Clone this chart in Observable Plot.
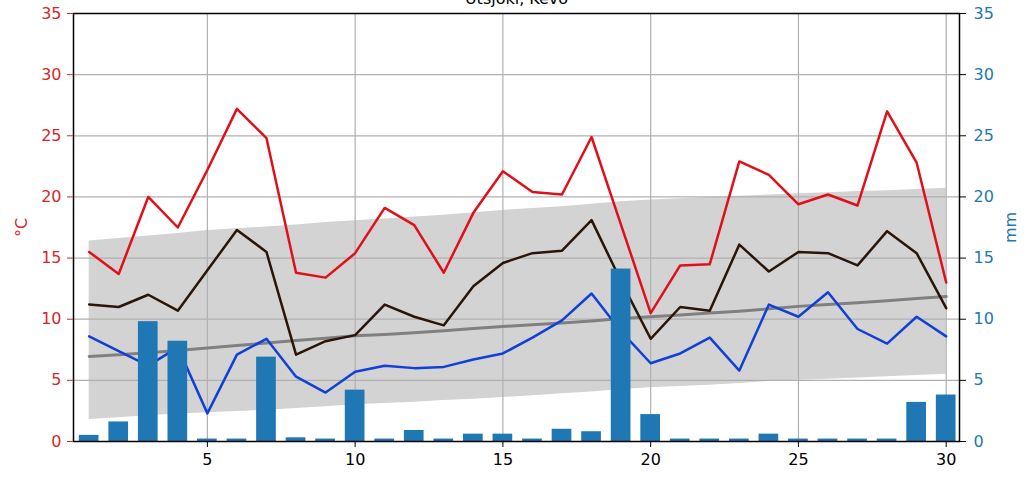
<!DOCTYPE html>
<html>
<head>
<meta charset="utf-8">
<script src="https://cdn.jsdelivr.net/npm/d3@7"></script>
<script src="https://cdn.jsdelivr.net/npm/@observablehq/plot@0.6"></script>
<style>
  html, body { margin: 0; padding: 0; background: #fff; overflow: hidden; }
  #chart svg { display: block; }
</style>
</head>
<body>
<div id="chart"></div>
<script>
const title = "Utsjoki, Kevo";
const days = d3.range(1, 31);
const tMax = [15.5, 13.7, 20.0, 17.5, 22.2, 27.2, 24.8, 13.8, 13.4, 15.4, 19.1, 17.7, 13.8, 18.7, 22.1, 20.4, 20.2, 24.9, 17.7, 10.5, 14.4, 14.5, 22.9, 21.8, 19.4, 20.2, 19.3, 27.0, 22.8, 13.0];
const tMean = [11.2, 11.0, 12.0, 10.7, 14.0, 17.3, 15.5, 7.1, 8.2, 8.7, 11.2, 10.2, 9.5, 12.7, 14.6, 15.4, 15.6, 18.1, 13.1, 8.4, 11.0, 10.7, 16.1, 13.9, 15.5, 15.4, 14.4, 17.2, 15.4, 10.9];
const tMin = [8.6, 7.4, 6.2, 7.7, 2.3, 7.1, 8.4, 5.3, 4.0, 5.7, 6.2, 6.0, 6.1, 6.7, 7.2, 8.5, 9.9, 12.1, 9.0, 6.4, 7.2, 8.5, 5.8, 11.2, 10.2, 12.2, 9.2, 8.0, 10.2, 8.6];
const normMean = [6.95, 7.1, 7.25, 7.45, 7.65, 7.85, 8.05, 8.25, 8.45, 8.65, 8.75, 8.9, 9.05, 9.25, 9.4, 9.55, 9.7, 9.85, 10.05, 10.2, 10.35, 10.5, 10.65, 10.85, 11.05, 11.2, 11.35, 11.5, 11.7, 11.85];
const normHigh = [16.4, 16.6, 16.8, 17.0, 17.25, 17.4, 17.55, 17.7, 17.9, 18.05, 18.2, 18.35, 18.5, 18.7, 18.9, 19.05, 19.2, 19.4, 19.6, 19.75, 19.85, 19.95, 20.05, 20.15, 20.25, 20.35, 20.45, 20.5, 20.6, 20.7];
const normLow = [1.8, 1.95, 2.1, 2.25, 2.35, 2.45, 2.55, 2.7, 2.85, 3.0, 3.1, 3.2, 3.35, 3.45, 3.6, 3.75, 3.9, 4.05, 4.25, 4.4, 4.5, 4.6, 4.75, 4.9, 5.0, 5.1, 5.2, 5.3, 5.4, 5.5];
const precip = [0.5, 1.6, 9.8, 8.2, 0.2, 0.2, 6.9, 0.3, 0.2, 4.2, 0.2, 0.9, 0.2, 0.6, 0.6, 0.2, 1.0, 0.8, 14.1, 2.2, 0.2, 0.2, 0.2, 0.6, 0.2, 0.2, 0.2, 0.2, 3.2, 3.8];
const xTicks = [5, 10, 15, 20, 25, 30];
const yTicks = [0, 5, 10, 15, 20, 25, 30, 35];

const rows = days.map((d, i) => ({
  day: d, tmax: tMax[i], tmean: tMean[i], tmin: tMin[i],
  nmean: normMean[i], nhi: normHigh[i], nlo: normLow[i], p: precip[i]
}));

const red = "#d62728";
const blue = "#1f77b4";
const font = "DejaVu Sans, sans-serif";

const chart = Plot.plot({
  width: 1034,
  height: 484,
  marginTop: 13,
  marginBottom: 43,
  marginLeft: 73,
  marginRight: 75,
  style: { fontFamily: font, fontSize: "16px", background: "#fff" },
  x: { domain: [0.47, 30.45] },
  y: { domain: [0, 35] },
  marks: [
    Plot.areaY(rows, { x: "day", y1: "nlo", y2: "nhi", fill: "#d3d3d3", fillOpacity: 1 }),
    Plot.gridX(xTicks, { stroke: "#b0b0b0", strokeOpacity: 1, strokeWidth: 1.2 }),
    Plot.gridY(yTicks, { stroke: "#b0b0b0", strokeOpacity: 1, strokeWidth: 1.2 }),
    Plot.line(rows, { x: "day", y: "nmean", stroke: "#808080", strokeWidth: 3 }),
    Plot.line(rows, { x: "day", y: "tmax", stroke: "#e0101a", strokeWidth: 2.5 }),
    Plot.line(rows, { x: "day", y: "tmean", stroke: "#2a1608", strokeWidth: 2.5 }),
    Plot.line(rows, { x: "day", y: "tmin", stroke: "#1040d8", strokeWidth: 2.5 }),
    Plot.rectY(rows, { x1: d => d.day - 0.333, x2: d => d.day + 0.333, y1: 0, y2: "p", fill: blue }),
    Plot.frame({ stroke: "black", strokeWidth: 1.5 }),
    Plot.axisX(xTicks, { anchor: "bottom", tickSize: 6, tickPadding: 6, label: null, color: "black", fontSize: 16 }),
    Plot.axisY(yTicks, { anchor: "left", tickSize: 6, tickPadding: 6, color: red, fill: red, label: "°C", labelAnchor: "center", labelArrow: "none", labelOffset: 58, fontSize: 16 }),
    Plot.axisY(yTicks, { anchor: "right", tickSize: 6, tickPadding: 8, color: blue, fill: blue, stroke: "black", label: "mm", labelAnchor: "center", labelArrow: "none", labelOffset: 56, fontSize: 16 }),
    Plot.text([title], { frameAnchor: "top", dy: -10, lineAnchor: "bottom", fontSize: 16, fill: "black", text: d => d })
  ]
});
document.getElementById("chart").appendChild(chart);
</script>
</body>
</html>
